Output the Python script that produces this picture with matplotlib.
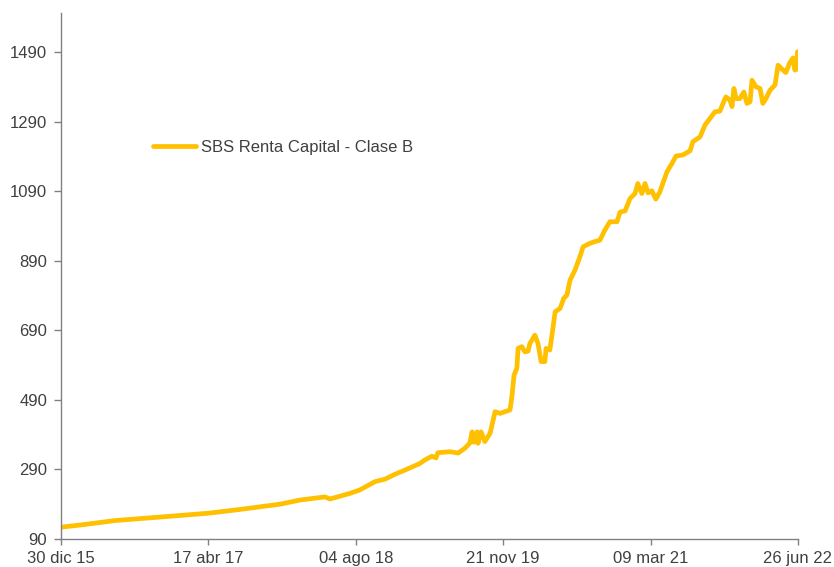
import matplotlib
matplotlib.use('Agg')
import matplotlib.pyplot as plt
import pandas as pd

plt.rcParams.update({
    "font.family": ["Liberation Sans", "DejaVu Sans"],
    "font.size": 12,
    "xtick.color": "#808080",
    "ytick.color": "#808080",
    "xtick.labelcolor": "#404040",
    "ytick.labelcolor": "#404040",
})

# Fund value series
dates = [
    "2015-12-30", "2016-02-29", "2016-06-21", "2016-11-12", "2017-04-16",
    "2017-07-28", "2017-12-03", "2018-02-06", "2018-04-27", "2018-05-13",
    "2018-07-16", "2018-08-17", "2018-10-05", "2018-11-06", "2018-12-08",
    "2019-01-09", "2019-02-26", "2019-03-14", "2019-04-06", "2019-04-19",
    "2019-04-25", "2019-06-03", "2019-06-29", "2019-07-21", "2019-08-06",
    "2019-08-13", "2019-08-19", "2019-08-29", "2019-09-01", "2019-09-11",
    "2019-09-23", "2019-10-10", "2019-10-26", "2019-11-11", "2019-12-13",
    "2019-12-19", "2019-12-26", "2020-01-04", "2020-01-08", "2020-01-20",
    "2020-01-30", "2020-02-09", "2020-02-15", "2020-03-02", "2020-03-12",
    "2020-03-22", "2020-04-03", "2020-04-07", "2020-04-19", "2020-04-26",
    "2020-05-06", "2020-05-22", "2020-06-03", "2020-06-13", "2020-06-23",
    "2020-07-09", "2020-07-25", "2020-08-04", "2020-08-26", "2020-09-11",
    "2020-09-27", "2020-10-13", "2020-10-29", "2020-11-21", "2020-12-01",
    "2020-12-17", "2021-01-02", "2021-01-18", "2021-01-27", "2021-02-09",
    "2021-02-19", "2021-03-01", "2021-03-13", "2021-03-26", "2021-04-08",
    "2021-04-18", "2021-05-01", "2021-05-17", "2021-05-30", "2021-06-21",
    "2021-07-14", "2021-07-23", "2021-08-15", "2021-08-31", "2021-09-16",
    "2021-10-02", "2021-10-18", "2021-10-28", "2021-11-06", "2021-11-19",
    "2021-11-26", "2021-12-02", "2021-12-09", "2021-12-21", "2022-01-03",
    "2022-01-13", "2022-01-23", "2022-01-29", "2022-02-11", "2022-02-24",
    "2022-03-05", "2022-03-15", "2022-03-28", "2022-04-13", "2022-04-23",
    "2022-05-09", "2022-05-18", "2022-05-31", "2022-06-10", "2022-06-16",
    "2022-06-23", "2022-06-25", "2022-06-26",
]
values = [
    124, 130, 143, 153, 164,
    175, 190, 202, 211, 205,
    221, 231, 255, 262, 276,
    288, 307, 317, 328, 323,
    338, 341, 337, 351, 366,
    398, 368, 398, 365, 398,
    370, 394, 456, 451, 461,
    499, 561, 581, 638, 643,
    628, 630, 652, 676, 652,
    600, 600, 638, 633, 676,
    743, 753, 782, 791, 834,
    863, 902, 930, 940, 945,
    949, 978, 1002, 1002, 1030,
    1033, 1069, 1083, 1112, 1083,
    1112, 1085, 1091, 1067, 1088,
    1114, 1146, 1170, 1191, 1194,
    1206, 1232, 1246, 1280, 1299,
    1318, 1320, 1342, 1361, 1352,
    1333, 1385, 1356, 1356, 1375,
    1342, 1347, 1409, 1390, 1385,
    1342, 1356, 1380, 1395, 1452,
    1438, 1431, 1460, 1473, 1438,
    1460, 1491, 1440,
]
series_name = "SBS Renta Capital - Clase B"

tick_dates = ["2015-12-30", "2017-04-17", "2018-08-04", "2019-11-21", "2021-03-09", "2022-06-26"]
tick_labels = ["30 dic 15", "17 abr 17", "04 ago 18", "21 nov 19", "09 mar 21", "26 jun 22"]
y_ticks = [90, 290, 490, 690, 890, 1090, 1290, 1490]

x = pd.to_datetime(dates)
xt = pd.to_datetime(tick_dates)

fig = plt.figure(figsize=(8.34, 5.67), dpi=100)
ax = fig.add_axes([0.0731, 0.0494, 0.8837, 0.9276])

ax.plot(x, values, color='#FFC000', linewidth=3.4, solid_joinstyle='round',
        solid_capstyle='round', label=series_name)

ax.set_xlim(xt[0], xt[-1])
ax.set_ylim(90, 1602)
ax.set_xticks(xt)
ax.set_xticklabels(tick_labels)
ax.set_yticks(y_ticks)
ax.tick_params(axis='y', length=5, width=1, direction='out', pad=5)
ax.tick_params(axis='x', length=4, width=1, direction='out', pad=5)

for side in ['top', 'right']:
    ax.spines[side].set_visible(False)
for side in ['left', 'bottom']:
    ax.spines[side].set_color('#808080')
    ax.spines[side].set_linewidth(1)

ax.legend(loc='center left', bbox_to_anchor=(0.125, 0.745), frameon=False,
          borderpad=0, borderaxespad=0, handlelength=2.6, handletextpad=0.3,
          labelcolor='#404040')

fig.savefig('out.png', dpi=100, facecolor='white')
